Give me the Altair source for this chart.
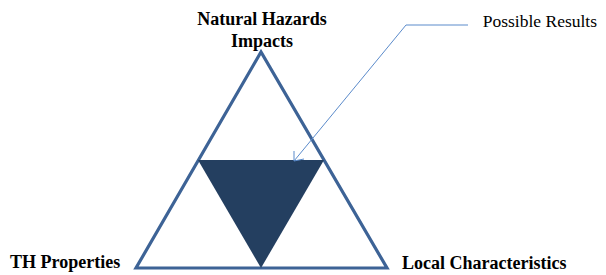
import altair as alt
import pandas as pd

# Outer triangle (page-pixel coordinates), path repeated past apex so every corner is joined
outer_x = [261, 387, 136, 261, 387]
outer_y = [52, 268, 268, 52, 268]
# Inner inverted (filled) triangle
inner_x = [198, 261, 324]
inner_y = [160, 268, 160]
inner_top = [160, 160, 160]
# Leader line from label to the inner triangle
leader_x = [468, 406, 294]
leader_y = [25, 25, 161]
# Open arrow head
head_x = [294, 294, 294, 304]
head_y = [161, 151, 161, 159]
head_id = ["a", "a", "b", "b"]
# Labels
bold_labels = ["Natural Hazards", "Impacts", "TH Properties", "Local Characteristics"]
bold_x = [262, 262, 10, 402]
bold_y = [25, 47, 268, 269]
bold_align = ["center", "center", "left", "left"]
note_label = ["Possible Results"]
note_x = [597]
note_y = [27]

W, H = 590, 267
xs = alt.Scale(domain=[8, 8 + W], nice=False, zero=False)
ys = alt.Scale(domain=[8, 8 + H], nice=False, zero=False, reverse=True)

def X(f="x"):
    return alt.X(f + ":Q", scale=xs, axis=None)

def Y(f="y"):
    return alt.Y(f + ":Q", scale=ys, axis=None)

outer_df = pd.DataFrame({"x": outer_x, "y": outer_y, "i": range(len(outer_x))})
inner_df = pd.DataFrame({"x": inner_x, "y": inner_y, "y2": inner_top})
leader_df = pd.DataFrame({"x": leader_x, "y": leader_y, "i": range(len(leader_x))})
head_df = pd.DataFrame({"x": head_x, "y": head_y, "g": head_id, "i": range(len(head_x))})

outer = alt.Chart(outer_df).mark_line(
    color="#3D6396", strokeWidth=3.2, strokeJoin="miter", strokeMiterLimit=20
).encode(x=X(), y=Y(), order="i:Q")

inner = alt.Chart(inner_df).mark_area(color="#243F60", opacity=1).encode(
    x=X(), y=Y(), y2="y2:Q"
)

leader = alt.Chart(leader_df).mark_line(color="#5B8BCB", strokeWidth=1).encode(
    x=X(), y=Y(), order="i:Q"
)
head = alt.Chart(head_df).mark_line(color="#5B8BCB", strokeWidth=1).encode(
    x=X(), y=Y(), detail="g:N", order="i:Q"
)

bold_parts = []
for al in ["center", "left"]:
    sub = pd.DataFrame({
        "t": [t for t, a in zip(bold_labels, bold_align) if a == al],
        "x": [v for v, a in zip(bold_x, bold_align) if a == al],
        "y": [v for v, a in zip(bold_y, bold_align) if a == al],
    })
    bold_parts.append(
        alt.Chart(sub).mark_text(
            font="Liberation Serif", fontSize=18, fontWeight="bold",
            align=al, baseline="alphabetic", color="#000000"
        ).encode(x=X(), y=Y(), text="t:N")
    )

note = alt.Chart(pd.DataFrame({"t": note_label, "x": note_x, "y": note_y})).mark_text(
    font="Liberation Serif", fontSize=17.5, align="right", baseline="alphabetic", color="#000000"
).encode(x=X(), y=Y(), text="t:N")

chart = alt.layer(outer, inner, leader, head, *bold_parts, note).properties(
    width=W, height=H, padding=0, autosize=alt.AutoSizeParams(type="none")
).configure_view(stroke=None)

chart.save("out.html", embed_options={"renderer": "svg", "actions": False})
